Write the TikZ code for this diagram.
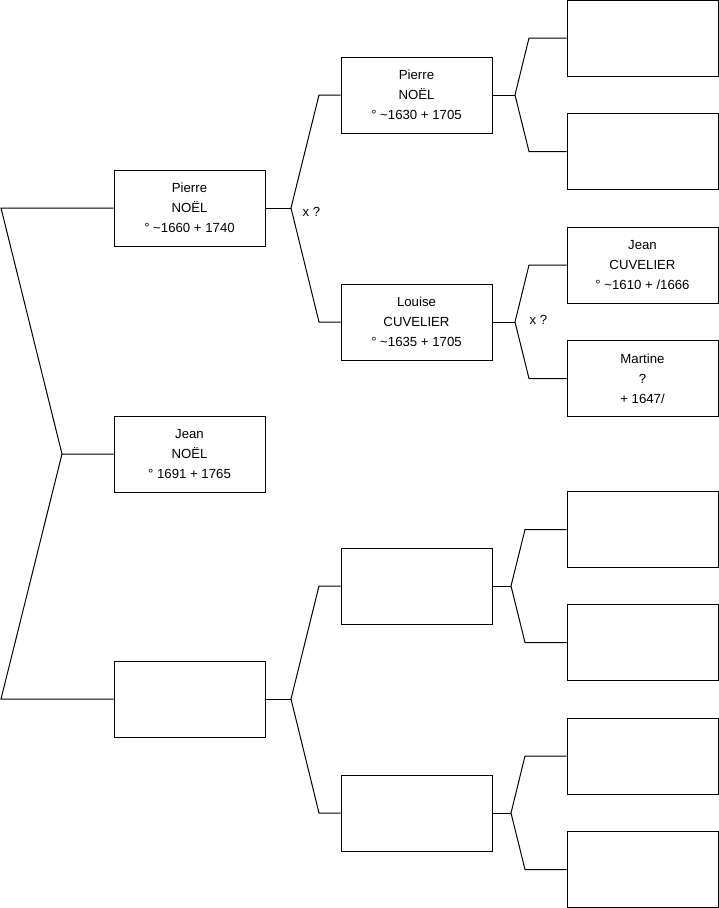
\documentclass[tikz,border=0pt]{standalone}
\usepackage{fontspec}
\setmainfont{Liberation Sans}
\usetikzlibrary{positioning}
\tikzstyle{person} = [draw,rectangle,inner sep=0pt,minimum width=151pt,minimum height=76pt,align=center,font=\fontsize{13.2}{20}\selectfont]
\tikzstyle{union} = [inner sep=0pt,font=\fontsize{13.2}{15}\selectfont]

\begin{document}
\begin{tikzpicture}[x=1pt,y=-1pt,line width=1pt]
        \useasboundingbox (0,0) rectangle (719,908);

        % generation 1 and 2
        \node[person] (jean) at (189.5,454) {Jean\\NOËL\\° 1691 + 1765};
        \node[person] (pa) at (189.5,208) {Pierre\\NOËL\\° \textasciitilde1660 + 1740};
        \node[person] (pb) at (189.5,699) {};

        % generation 3
        \node[person] (pa1) at (416.5,95) {Pierre\\NOËL\\° \textasciitilde1630 + 1705};
        \node[person] (pa2) at (416.5,322) {Louise\\CUVELIER\\° \textasciitilde1635 + 1705};
        \node[person] (pb1) at (416.5,586) {};
        \node[person] (pb2) at (416.5,813) {};

        % generation 4
        \node[person] (pa11) at (642.5,38) {};
        \node[person] (pa12) at (642.5,151.5) {};
        \node[person] (pa21) at (642.5,265) {Jean\\CUVELIER\\° \textasciitilde1610 + /1666};
        \node[person] (pa22) at (642.5,378.5) {Martine\\?\\+ 1647/};
        \node[person] (pb11) at (642.5,529.5) {};
        \node[person] (pb12) at (642.5,642.5) {};
        \node[person] (pb21) at (642.5,756) {};
        \node[person] (pb22) at (642.5,869.5) {};

        \node[union] (xa) at (311.5,212) {x ?};
        \node[union] (xa2) at (538.5,320) {x ?};

        % forks
        \coordinate (a1) at (1,208);
        \coordinate (a2) at (62,454);
        \coordinate (a3) at (1,699);
        \coordinate (b1) at (291,208);
        \coordinate (b1u) at (319,95);
        \coordinate (b1d) at (319,322);
        \coordinate (b2) at (291,699);
        \coordinate (b2u) at (319,586);
        \coordinate (b2d) at (319,813);
        \coordinate (c1) at (515,95);
        \coordinate (c1u) at (529,38);
        \coordinate (c1d) at (529,151.5);
        \coordinate (c2) at (515,322);
        \coordinate (c2u) at (529,265);
        \coordinate (c2d) at (529,378.5);
        \coordinate (c3) at (511,586);
        \coordinate (c3u) at (525,529.5);
        \coordinate (c3d) at (525,642.5);
        \coordinate (c4) at (511,813);
        \coordinate (c4u) at (525,756);
        \coordinate (c4d) at (525,869.5);

        \draw (pa.west) -- (a1) -- (a2) -- (jean.west);
        \draw (pb.west) -- (a3) -- (a2);

        \draw (pa.east) -- (b1);
        \draw (pa1.west) -- (b1u) -- (b1) -- (b1d) -- (pa2.west);
        \draw (pb.east) -- (b2);
        \draw (pb1.west) -- (b2u) -- (b2) -- (b2d) -- (pb2.west);

        \draw (pa1.east) -- (c1);
        \draw (pa11.west) -- (c1u) -- (c1) -- (c1d) -- (pa12.west);
        \draw (pa2.east) -- (c2);
        \draw (pa21.west) -- (c2u) -- (c2) -- (c2d) -- (pa22.west);
        \draw (pb1.east) -- (c3);
        \draw (pb11.west) -- (c3u) -- (c3) -- (c3d) -- (pb12.west);
        \draw (pb2.east) -- (c4);
        \draw (pb21.west) -- (c4u) -- (c4) -- (c4d) -- (pb22.west);
\end{tikzpicture}
\end{document}
